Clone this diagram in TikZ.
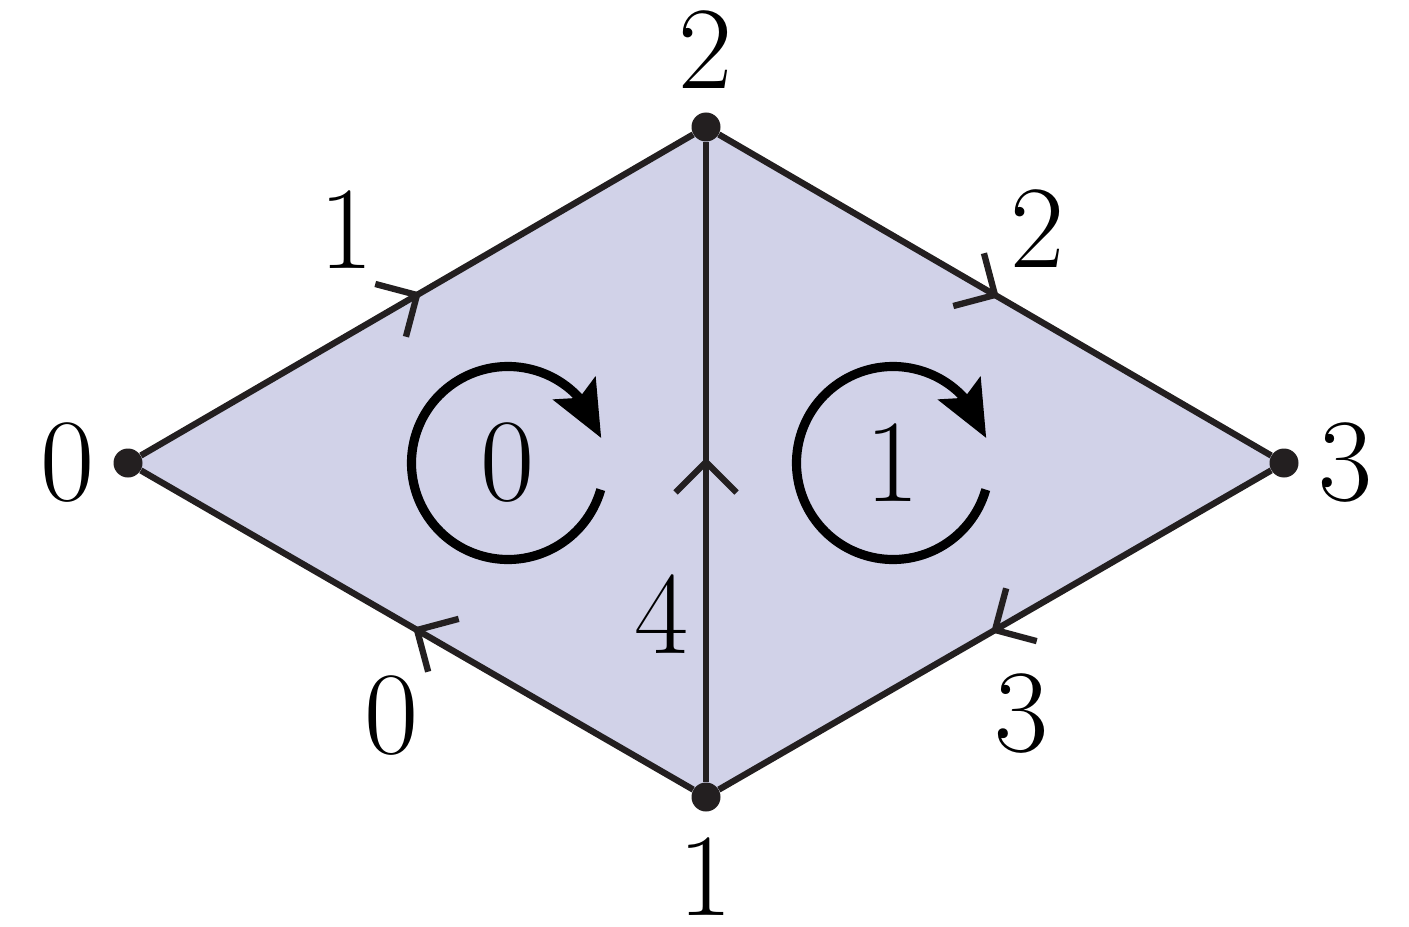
\documentclass[tikz,border=0pt]{standalone}
\usepackage{tikz}
\usetikzlibrary{arrows.meta,bending,backgrounds,decorations.markings,positioning}
\definecolor{facefill}{RGB}{209,210,232}
\definecolor{ink}{RGB}{35,31,32}
\tikzset{
  vtx/.style = {circle, fill=ink, minimum size=0.58cm, inner sep=0pt},
  lbl/.style = {inner sep=0pt, font=\fontsize{67}{76}\selectfont},
  side/.style = {draw=ink, line width=3.6pt, postaction={decorate},
    decoration={markings, mark=at position 0.5 with {\draw[ink, line width=3.6pt] (-0.61,0.61) -- (0,0) -- (-0.61,-0.61);}}},
  turn/.style = {black, line width=5.2pt, -{Stealth[length=32pt, width=27pt, inset=6pt, flex]}}
}

\begin{document}
\begin{tikzpicture}
            \useasboundingbox (0,0) rectangle (28.18,18.52);
            % vertices
            \node[vtx] (v0) at (2.56,9.26) {};
            \node[vtx] (v2) at (14.12,15.98) {};
            \node[vtx] (v3) at (25.68,9.26) {};
            \node[vtx] (v1) at (14.12,2.58) {};
            \begin{scope}[on background layer]
              \fill[facefill] (v0.center) -- (v2.center) -- (v3.center) -- (v1.center) -- cycle;
            \end{scope}
            \node[lbl, left=0.36cm of v0] (n0) {0};
            \node[lbl, above=0.46cm of v2] (n2) {2};
            \node[lbl, right=0.38cm of v3] (n3) {3};
            \node[lbl, below=0.51cm of v1] (n1) {1};
            % edges
            \draw[side] (v0) -- (v2);
            \draw[side] (v2) -- (v3);
            \draw[side] (v3) -- (v1);
            \draw[side] (v1) -- (v0);
            \draw[side] (v1) -- (v2);
            \node[lbl] (e1) at (6.94,13.92) {1};
            \node[lbl] (e2) at (20.76,13.94) {2};
            \node[lbl] (e3) at (20.44,4.24) {3};
            \node[lbl] (e0) at (7.84,4.20) {0};
            \node[lbl] (e4) at (13.24,6.24) {4};
            % faces
            \node[lbl] (f0) at (10.16,9.26) {0};
            \node[lbl] (f1) at (17.86,9.26) {1};
            \draw[turn] ([shift={(-16:1.93)}]f0.center) arc[start angle=-16, end angle=-345, radius=1.93];
            \draw[turn] ([shift={(-16:1.93)}]f1.center) arc[start angle=-16, end angle=-345, radius=1.93];
        \end{tikzpicture}
\end{document}
